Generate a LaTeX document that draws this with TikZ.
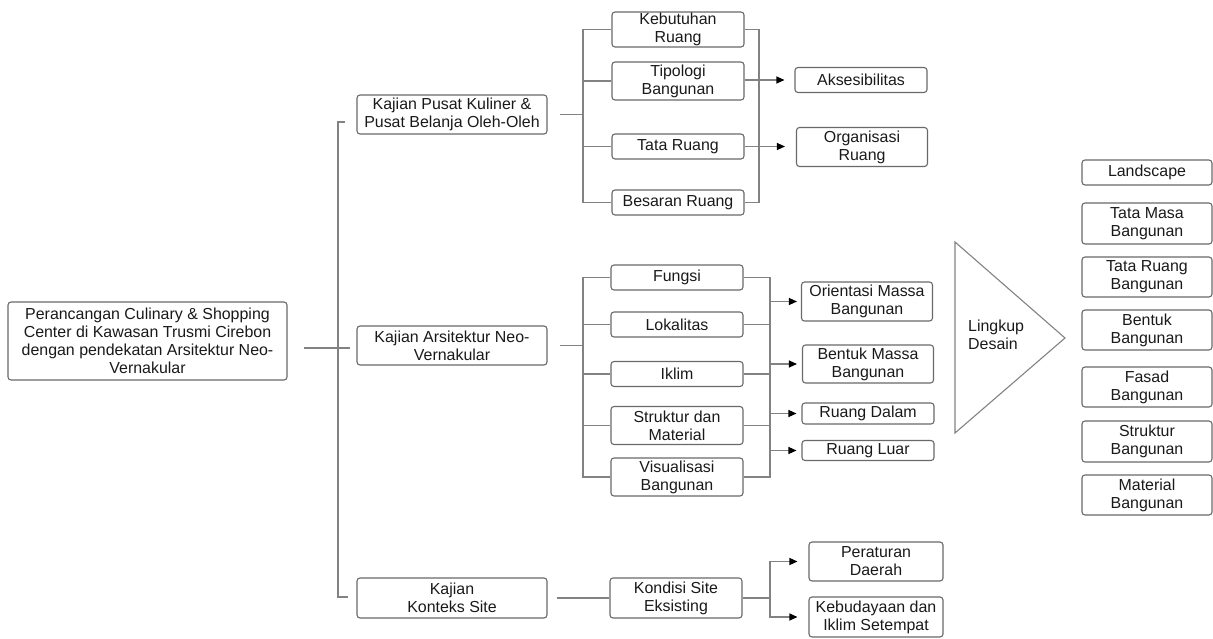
\documentclass[tikz,border=0pt]{standalone}
\usepackage{fontspec}
\setmainfont{Liberation Sans}
\usetikzlibrary{arrows.meta,calc}
\definecolor{boxc}{RGB}{105,105,105}
\definecolor{linec}{RGB}{130,130,130}
\definecolor{txt}{RGB}{25,25,25}
\begin{document}
\begin{tikzpicture}[x=1bp,y=-1bp,
  box/.style={draw=boxc, rounded corners=3bp, line width=1.1bp, inner sep=0pt,
    align=center, text=txt, font=\fontsize{16}{18}\selectfont},
  bw/.style={minimum width=#1},
  bh/.style={minimum height=#1},
  conn/.style={draw=linec, line width=1.1bp},
  arr/.style={conn, -{Triangle[length=8bp,width=7bp,color=black]}},
]
\useasboundingbox (0,0) rectangle (1213,639);

% main title
\node[box, bw=279bp, bh=78bp] (root) at (147.5,341) {Perancangan Culinary \& Shopping\\Center di Kawasan Trusmi Cirebon\\dengan pendekatan Arsitektur Neo-\\Vernakular};

% first level
\node[box, bw=190bp, bh=39bp] (k1) at (452,114.5) {Kajian Pusat Kuliner \&\\Pusat Belanja Oleh-Oleh};
\node[box, bw=190bp, bh=39bp] (k2) at (452,345.5) {Kajian Arsitektur Neo-\\Vernakular};
\node[box, bw=190bp, bh=40bp] (k3) at (452,598) {Kajian\\Konteks Site};

% group 1
\node[box, bw=132bp, bh=35bp] (keb) at (678,29.5) {Kebutuhan\\Ruang};
\node[box, bw=132bp, bh=38bp] (tip) at (678,81) {Tipologi\\Bangunan};
\node[box, bw=132bp, bh=25bp] (tru) at (678,146.5) {Tata Ruang};
\node[box, bw=132bp, bh=25bp] (bes) at (678,202.5) {Besaran Ruang};
\node[box, bw=132bp, bh=25bp] (aks) at (861,80) {Aksesibilitas};
\node[box, bw=131bp, bh=39bp] (org) at (862,147) {Organisasi\\Ruang};

% group 2
\node[box, bw=132bp, bh=25bp] (fun) at (677,277.5) {Fungsi};
\node[box, bw=132bp, bh=25bp] (lok) at (677,324.5) {Lokalitas};
\node[box, bw=132bp, bh=25bp] (ikl) at (677,374) {Iklim};
\node[box, bw=132bp, bh=38bp] (str) at (677,425.5) {Struktur dan\\Material};
\node[box, bw=132bp, bh=38bp] (vis) at (677,477) {Visualisasi\\Bangunan};
\node[box, bw=131bp, bh=39bp] (ori) at (867,301.5) {Orientasi Massa\\Bangunan};
\node[box, bw=131bp, bh=38bp] (bms) at (868,364) {Bentuk Massa\\Bangunan};
\node[box, bw=132bp, bh=21bp] (rd) at (868,413.5) {Ruang Dalam};
\node[box, bw=132bp, bh=20bp] (rl) at (868,450.5) {Ruang Luar};

% group 3
\node[box, bw=132bp, bh=40bp] (kon) at (676,598) {Kondisi Site\\Eksisting};
\node[box, bw=134bp, bh=39bp] (per) at (876,561.5) {Peraturan\\Daerah};
\node[box, bw=134bp, bh=40bp] (bud) at (876,617) {Kebudayaan dan\\Iklim Setempat};

% design scope
\coordinate (ta) at (955,242);
\coordinate (tb) at (955,433);
\coordinate (tc) at (1065,338);
\draw[conn] (ta) -- (tc) -- (tb) -- cycle;
\node[anchor=west, align=left, inner sep=0pt, text=txt, font=\fontsize{16}{18}\selectfont] (lds) at (968,335) {Lingkup\\Desain};

\node[box, bw=130bp, bh=25bp] (r1) at (1147,172.5) {Landscape};
\node[box, bw=130bp, bh=41bp] (r2) at (1147,223.5) {Tata Masa\\Bangunan};
\node[box, bw=130bp, bh=40bp] (r3) at (1147,277) {Tata Ruang\\Bangunan};
\node[box, bw=130bp, bh=40bp] (r4) at (1147,330) {Bentuk\\Bangunan};
\node[box, bw=130bp, bh=40bp] (r5) at (1147,387) {Fasad\\Bangunan};
\node[box, bw=130bp, bh=41bp] (r6) at (1147,441.5) {Struktur\\Bangunan};
\node[box, bw=130bp, bh=40bp] (r7) at (1147,495) {Material\\Bangunan};

% main trunk
\coordinate (b0) at (338,348);
\draw[conn] ($(root.east)+(16,7)$) -- ++(46,0);
\draw[conn] ($(k1.west)+(-11,7.5)$) -| (b0) |- ($(k3.west)+(-8,-1)$);

% group 1 connectors
\coordinate (b1) at (583,114.5);
\coordinate (b1r) at (759,114.5);
\draw[conn] ($(k1.east)+(12,0)$) -- (b1);
\draw[conn] (keb.west) -| (b1) |- (bes.west);
\draw[conn] (tip.west) -- (tip.west -| b1);
\draw[conn] (tru.west) -- (tru.west -| b1);
\draw[conn] (keb.east) -| (b1r) |- (bes.east);
\draw[arr, shorten >=10bp] (aks.west -| tip.east) -- (aks.west);
\draw[arr, shorten >=11bp] (tru.east) -- (tru.east -| org.west);

% group 2 connectors
\coordinate (b2) at (583,345.5);
\coordinate (b2r) at (770,345.5);
\draw[conn] ($(k2.east)+(12,0)$) -- (b2);
\draw[conn] (fun.west) -| (b2) |- (vis.west);
\draw[conn] (lok.west) -- (lok.west -| b2);
\draw[conn] (ikl.west) -- (ikl.west -| b2);
\draw[conn] (str.west) -- (str.west -| b2);
\draw[conn] (fun.east) -| (b2r) |- (vis.east);
\draw[conn] (lok.east) -- (lok.east -| b2r);
\draw[conn] (ikl.east) -- (ikl.east -| b2r);
\draw[conn] (str.east) -- (str.east -| b2r);
\draw[arr, shorten >=4bp] (ori.west -| b2r) -- (ori.west);
\draw[arr, shorten >=5bp] (bms.west -| b2r) -- (bms.west);
\draw[arr, shorten >=5bp] (rd.west -| b2r) -- (rd.west);
\draw[arr, shorten >=5bp] (rl.west -| b2r) -- (rl.west);

% group 3 connectors
\coordinate (b3) at (770,598);
\draw[conn] ($(k3.east)+(9,0)$) -- (kon.west);
\draw[conn] (kon.east) -- (b3);
\draw[arr, shorten >=11bp] (b3) |- (per.west);
\draw[arr, shorten >=11bp] (b3) |- (bud.west);
\end{tikzpicture}
\end{document}
